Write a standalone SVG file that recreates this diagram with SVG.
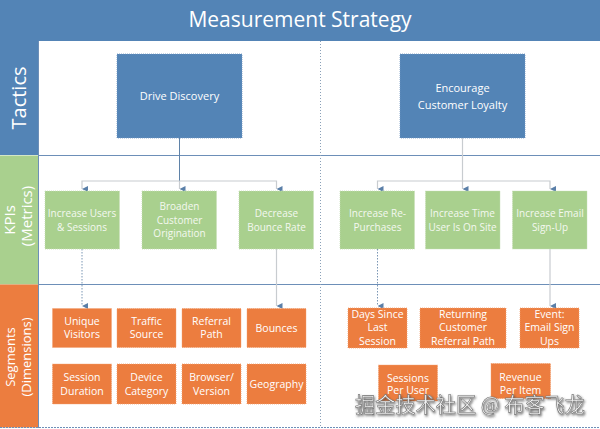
<svg xmlns="http://www.w3.org/2000/svg" width="600" height="429" viewBox="0 0 600 429">
<style>
text{font-family:"Open Sans","DejaVu Sans",sans-serif;fill:#fff;text-anchor:middle}
.title{font-size:21px}
.lbl{font-size:20px}
.lbl2{font-size:15px}
.lbl3{font-size:13px}
.tac rect{fill:#5384b6;stroke:#6f95c0;stroke-width:0.8;stroke-dasharray:1 1}
.tac text{font-size:11px}
.kpi rect{fill:#a9d08e;stroke:#c5ddb5;stroke-width:0.8;stroke-dasharray:1 1}
.kpi text{font-size:10px;fill:#f4f8f0}
.seg rect{fill:#ec7d3f;stroke:#f2a070;stroke-width:0.8;stroke-dasharray:1 1}
.seg text{font-size:10.5px}
.rowline{stroke:#6d8fb8;stroke-width:1.2}
.div{stroke:#8aa0b8;stroke-width:1;stroke-dasharray:1 2}
.c1{fill:none;stroke:#5f82a8;stroke-width:1}
.c2{fill:none;stroke:#c8ccd0;stroke-width:1.2}
.c3{fill:none;stroke:#7a96b4;stroke-width:1;stroke-dasharray:1.5 1.5}
.wm{font-family:"Noto Sans CJK SC","DejaVu Sans",sans-serif;font-size:21px;fill:#f2f2f2;stroke:#707070;stroke-width:0.6;text-anchor:start}
</style>
<defs>
<marker id="ah" viewBox="0 0 10 10" refX="5" refY="10" markerWidth="6" markerHeight="6" orient="auto-start-reverse" markerUnits="userSpaceOnUse">
<path d="M0,0 L10,0 L5,10 z" fill="#5a7fa8"/>
</marker>
<filter id="sh" x="-5%" y="-20%" width="110%" height="140%">
<feDropShadow dx="1" dy="1.5" stdDeviation="0.8" flood-color="#333" flood-opacity="0.7"/>
</filter>
</defs>
<rect x="0" y="0" width="600" height="429" fill="#fff"/>
<g id="title">
<rect x="0" y="0" width="600" height="41" fill="#5384b6"/>
<text class="title" x="300" y="27">Measurement Strategy</text>
</g>
<g id="lane-tactics">
<rect x="0" y="41" width="38" height="114" fill="#5384b6"/>
<text class="lbl" transform="translate(26,98) rotate(-90)">Tactics</text>
</g>
<g id="lane-kpis">
<rect x="0" y="155.5" width="38" height="129" fill="#a9d08e"/>
<text class="lbl2" transform="translate(15,220) rotate(-90)">KPIs</text>
<text class="lbl2" transform="translate(32,216) rotate(-90)">(Metrics)</text>
</g>
<g id="lane-segments">
<rect x="0" y="284.5" width="38" height="143" fill="#ec7d3f"/>
<text class="lbl3" transform="translate(15,357) rotate(-90)">Segments</text>
<text class="lbl3" transform="translate(31,357) rotate(-90)">(Dimensions)</text>
</g>
<g id="grid">
<line class="rowline" x1="38" y1="155.5" x2="600" y2="155.5"/>
<line class="rowline" x1="38" y1="284.5" x2="600" y2="284.5"/>
<line class="rowline" x1="0" y1="427.5" x2="600" y2="427.5" stroke-dasharray="2 1"/>
<line x1="38.5" y1="41" x2="38.5" y2="428" stroke="#6d8fb8" stroke-width="1"/>
<line class="div" x1="320.5" y1="41" x2="320.5" y2="428"/>
</g>
<g id="connectors">
<path class="c1" d="M179.5,138 V181"/>
<path class="c2" d="M82,189 V181 H276.5 V189" marker-start="url(#ah)" marker-end="url(#ah)"/>
<path class="c2" d="M179.5,181 V189" marker-end="url(#ah)"/>
<path class="c2" d="M462.5,138 V189" marker-end="url(#ah)"/>
<path class="c2" d="M377.5,189 V181 H550 V189" marker-start="url(#ah)" marker-end="url(#ah)"/>
<path class="c3" d="M82,249 V306" marker-end="url(#ah)"/>
<path class="c2" d="M276.5,249 V306" marker-end="url(#ah)"/>
<path class="c3" d="M377.5,249 V306" marker-end="url(#ah)"/>
<path class="c2" d="M550,249 V306" marker-end="url(#ah)"/>
</g>
<g id="drive-discovery" class="tac">
<rect x="117" y="54" width="125" height="84"/>
<text x="179.5" y="100">Drive Discovery</text>
</g>
<g id="encourage-loyalty" class="tac">
<rect x="400" y="54" width="125" height="84"/>
<text x="462.5" y="92">Encourage</text>
<text x="462.5" y="109">Customer Loyalty</text>
</g>
<g id="kpi-users" class="kpi">
<rect x="45" y="191" width="74.5" height="58"/>
<text x="82" y="217">Increase Users</text>
<text x="82" y="230.5">&amp; Sessions</text>
</g>
<g id="kpi-origination" class="kpi">
<rect x="142" y="191" width="74.5" height="58"/>
<text x="179.5" y="210">Broaden</text>
<text x="179.5" y="223.5">Customer</text>
<text x="179.5" y="237">Origination</text>
</g>
<g id="kpi-bounce" class="kpi">
<rect x="239" y="191" width="74.5" height="58"/>
<text x="276.5" y="217">Decrease</text>
<text x="276.5" y="230.5">Bounce Rate</text>
</g>
<g id="kpi-repurchase" class="kpi">
<rect x="340" y="191" width="74.5" height="58"/>
<text x="377.5" y="217">Increase Re-</text>
<text x="377.5" y="230.5">Purchases</text>
</g>
<g id="kpi-time" class="kpi">
<rect x="425.5" y="191" width="74.5" height="58"/>
<text x="462.5" y="217">Increase Time</text>
<text x="462.5" y="230.5">User Is On Site</text>
</g>
<g id="kpi-email" class="kpi">
<rect x="512.5" y="191" width="74.5" height="58"/>
<text x="550" y="217">Increase Email</text>
<text x="550" y="230.5">Sign-Up</text>
</g>
<g id="seg-unique" class="seg">
<rect x="52.5" y="308.5" width="59" height="39"/>
<text x="82" y="325">Unique</text>
<text x="82" y="338">Visitors</text>
</g>
<g id="seg-traffic" class="seg">
<rect x="117" y="308.5" width="59" height="39"/>
<text x="146.5" y="325">Traffic</text>
<text x="146.5" y="338">Source</text>
</g>
<g id="seg-referral" class="seg">
<rect x="182" y="308.5" width="59" height="39"/>
<text x="211.5" y="325">Referral</text>
<text x="211.5" y="338">Path</text>
</g>
<g id="seg-bounces" class="seg">
<rect x="247" y="308.5" width="59" height="39"/>
<text x="276.5" y="331.5">Bounces</text>
</g>
<g id="seg-duration" class="seg">
<rect x="52.5" y="364" width="59" height="40"/>
<text x="82" y="381">Session</text>
<text x="82" y="394.5">Duration</text>
</g>
<g id="seg-device" class="seg">
<rect x="117" y="364" width="59" height="40"/>
<text x="146.5" y="381">Device</text>
<text x="146.5" y="394.5">Category</text>
</g>
<g id="seg-browser" class="seg">
<rect x="182" y="364" width="59" height="40"/>
<text x="211.5" y="381">Browser/</text>
<text x="211.5" y="394.5">Version</text>
</g>
<g id="seg-geo" class="seg">
<rect x="247" y="364" width="59" height="40"/>
<text x="276.5" y="387.5">Geography</text>
</g>
<g id="seg-days" class="seg">
<rect x="348" y="308" width="59" height="40"/>
<text x="377.5" y="317.5">Days Since</text>
<text x="377.5" y="331">Last</text>
<text x="377.5" y="344.5">Session</text>
</g>
<g id="seg-returning" class="seg">
<rect x="420" y="308" width="86" height="40"/>
<text x="463" y="317.5">Returning</text>
<text x="463" y="331">Customer</text>
<text x="463" y="344.5">Referral Path</text>
</g>
<g id="seg-event" class="seg">
<rect x="520" y="308" width="59" height="40"/>
<text x="549.5" y="317.5">Event:</text>
<text x="549.5" y="331">Email Sign</text>
<text x="549.5" y="344.5">Ups</text>
</g>
<g id="seg-sessions" class="seg">
<rect x="378.5" y="365" width="59" height="36"/>
<text x="408" y="382">Sessions</text>
<text x="408" y="394">Per User</text>
</g>
<g id="seg-revenue" class="seg">
<rect x="491" y="363.5" width="59.5" height="35"/>
<text x="520.5" y="381">Revenue</text>
<text x="520.5" y="393.5">Per Item</text>
</g>
<text class="wm" x="355" y="412" textLength="230" lengthAdjust="spacingAndGlyphs" filter="url(#sh)">掘金技术社区 @ 布客飞龙</text>
</svg>
